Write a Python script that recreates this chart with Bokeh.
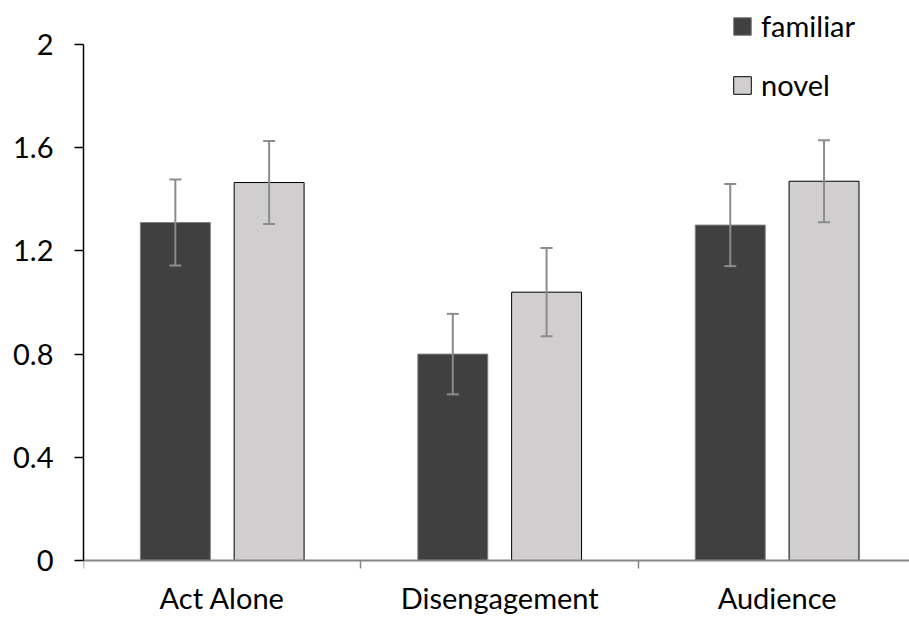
from bokeh.plotting import figure
from bokeh.models import (FixedTicker, Range1d, Legend, LegendItem, Whisker,
                          ColumnDataSource, TeeHead, CustomJSTickFormatter)
from bokeh.embed import file_html
from bokeh.resources import INLINE

categories = ["Act Alone", "Disengagement", "Audience"]
series = ["familiar", "novel"]
familiar = [1.31, 0.80, 1.30]
novel = [1.465, 1.04, 1.47]
familiar_err = [0.167, 0.156, 0.159]
novel_err = [0.161, 0.171, 0.159]
y_ticks = [0, 0.4, 0.8, 1.2, 1.6, 2]

FONT = "Lato"
offset = 0.169
bar_w = 0.252

centers = [i + 0.5 for i in range(len(categories))]
src_f = ColumnDataSource(dict(
    x=[c - offset for c in centers], top=familiar,
    upper=[v + e for v, e in zip(familiar, familiar_err)],
    lower=[v - e for v, e in zip(familiar, familiar_err)]))
src_n = ColumnDataSource(dict(
    x=[c + offset for c in centers], top=novel,
    upper=[v + e for v, e in zip(novel, novel_err)],
    lower=[v - e for v, e in zip(novel, novel_err)]))

p = figure(width=909, height=617, output_backend="svg", toolbar_location=None,
           x_range=Range1d(0, 2.977), y_range=Range1d(-0.2209, 2.1705),
           min_border_left=83, min_border_right=0, min_border_top=0,
           min_border_bottom=0)
p.outline_line_color = None
p.grid.grid_line_color = None
p.background_fill_color = "white"

r_f = p.vbar(x="x", top="top", bottom=0, width=bar_w, source=src_f,
             fill_color="#404040", line_color="#7f7f7f", line_width=1)
r_n = p.vbar(x="x", top="top", bottom=0, width=bar_w, source=src_n,
             fill_color="#d0cece", line_color="#000000", line_width=1)

for src in (src_f, src_n):
    w = Whisker(base="x", upper="upper", lower="lower", source=src,
                dimension="height", line_color="#8c8c8c", line_width=2,
                level="overlay",
                upper_head=TeeHead(size=12, line_color="#8c8c8c", line_width=2),
                lower_head=TeeHead(size=12, line_color="#8c8c8c", line_width=2))
    p.add_layout(w)

# y axis
ya = p.yaxis[0]
ya.ticker = FixedTicker(ticks=y_ticks)
ya.formatter = CustomJSTickFormatter(code="return String(Math.round(tick*10)/10);")
ya.bounds = (0, 2)
ya.axis_line_color = "black"
ya.axis_line_width = 1.5
ya.major_tick_out = 9
ya.major_tick_in = 0
ya.major_tick_line_color = "black"
ya.major_tick_line_width = 1.5
ya.minor_tick_line_color = None
ya.major_label_standoff = 21
ya.major_label_text_font = FONT
ya.major_label_text_font_size = "29px"
ya.major_label_text_color = "black"

# x axis, drawn at y = 0
xa = p.xaxis[0]
xa.fixed_location = 0
xa.ticker = FixedTicker(ticks=centers, minor_ticks=[0, 1, 2, 3])
xa.formatter = CustomJSTickFormatter(args=dict(labels=categories),
                                     code="return labels[Math.floor(tick)];")
xa.axis_line_color = "#868686"
xa.axis_line_width = 2
xa.major_tick_line_color = None
xa.major_tick_out = 0
xa.major_tick_in = 0
xa.minor_tick_out = 8
xa.minor_tick_in = 0
xa.minor_tick_line_color = "#868686"
xa.minor_tick_line_width = 1.5
xa.major_label_standoff = 11
xa.major_label_text_font = FONT
xa.major_label_text_font_size = "29px"
xa.major_label_text_color = "black"

legend = Legend(items=[LegendItem(label=series[0], renderers=[r_f]),
                       LegendItem(label=series[1], renderers=[r_n])],
                location=(648, 515), padding=0, margin=0, spacing=24,
                glyph_width=22, glyph_height=22, label_standoff=8,
                border_line_color=None, background_fill_color=None,
                label_text_font=FONT, label_text_font_size="29px",
                label_text_color="black")
p.add_layout(legend, "center")

html = file_html(p, INLINE)
open("out.html", "w").write(html)
